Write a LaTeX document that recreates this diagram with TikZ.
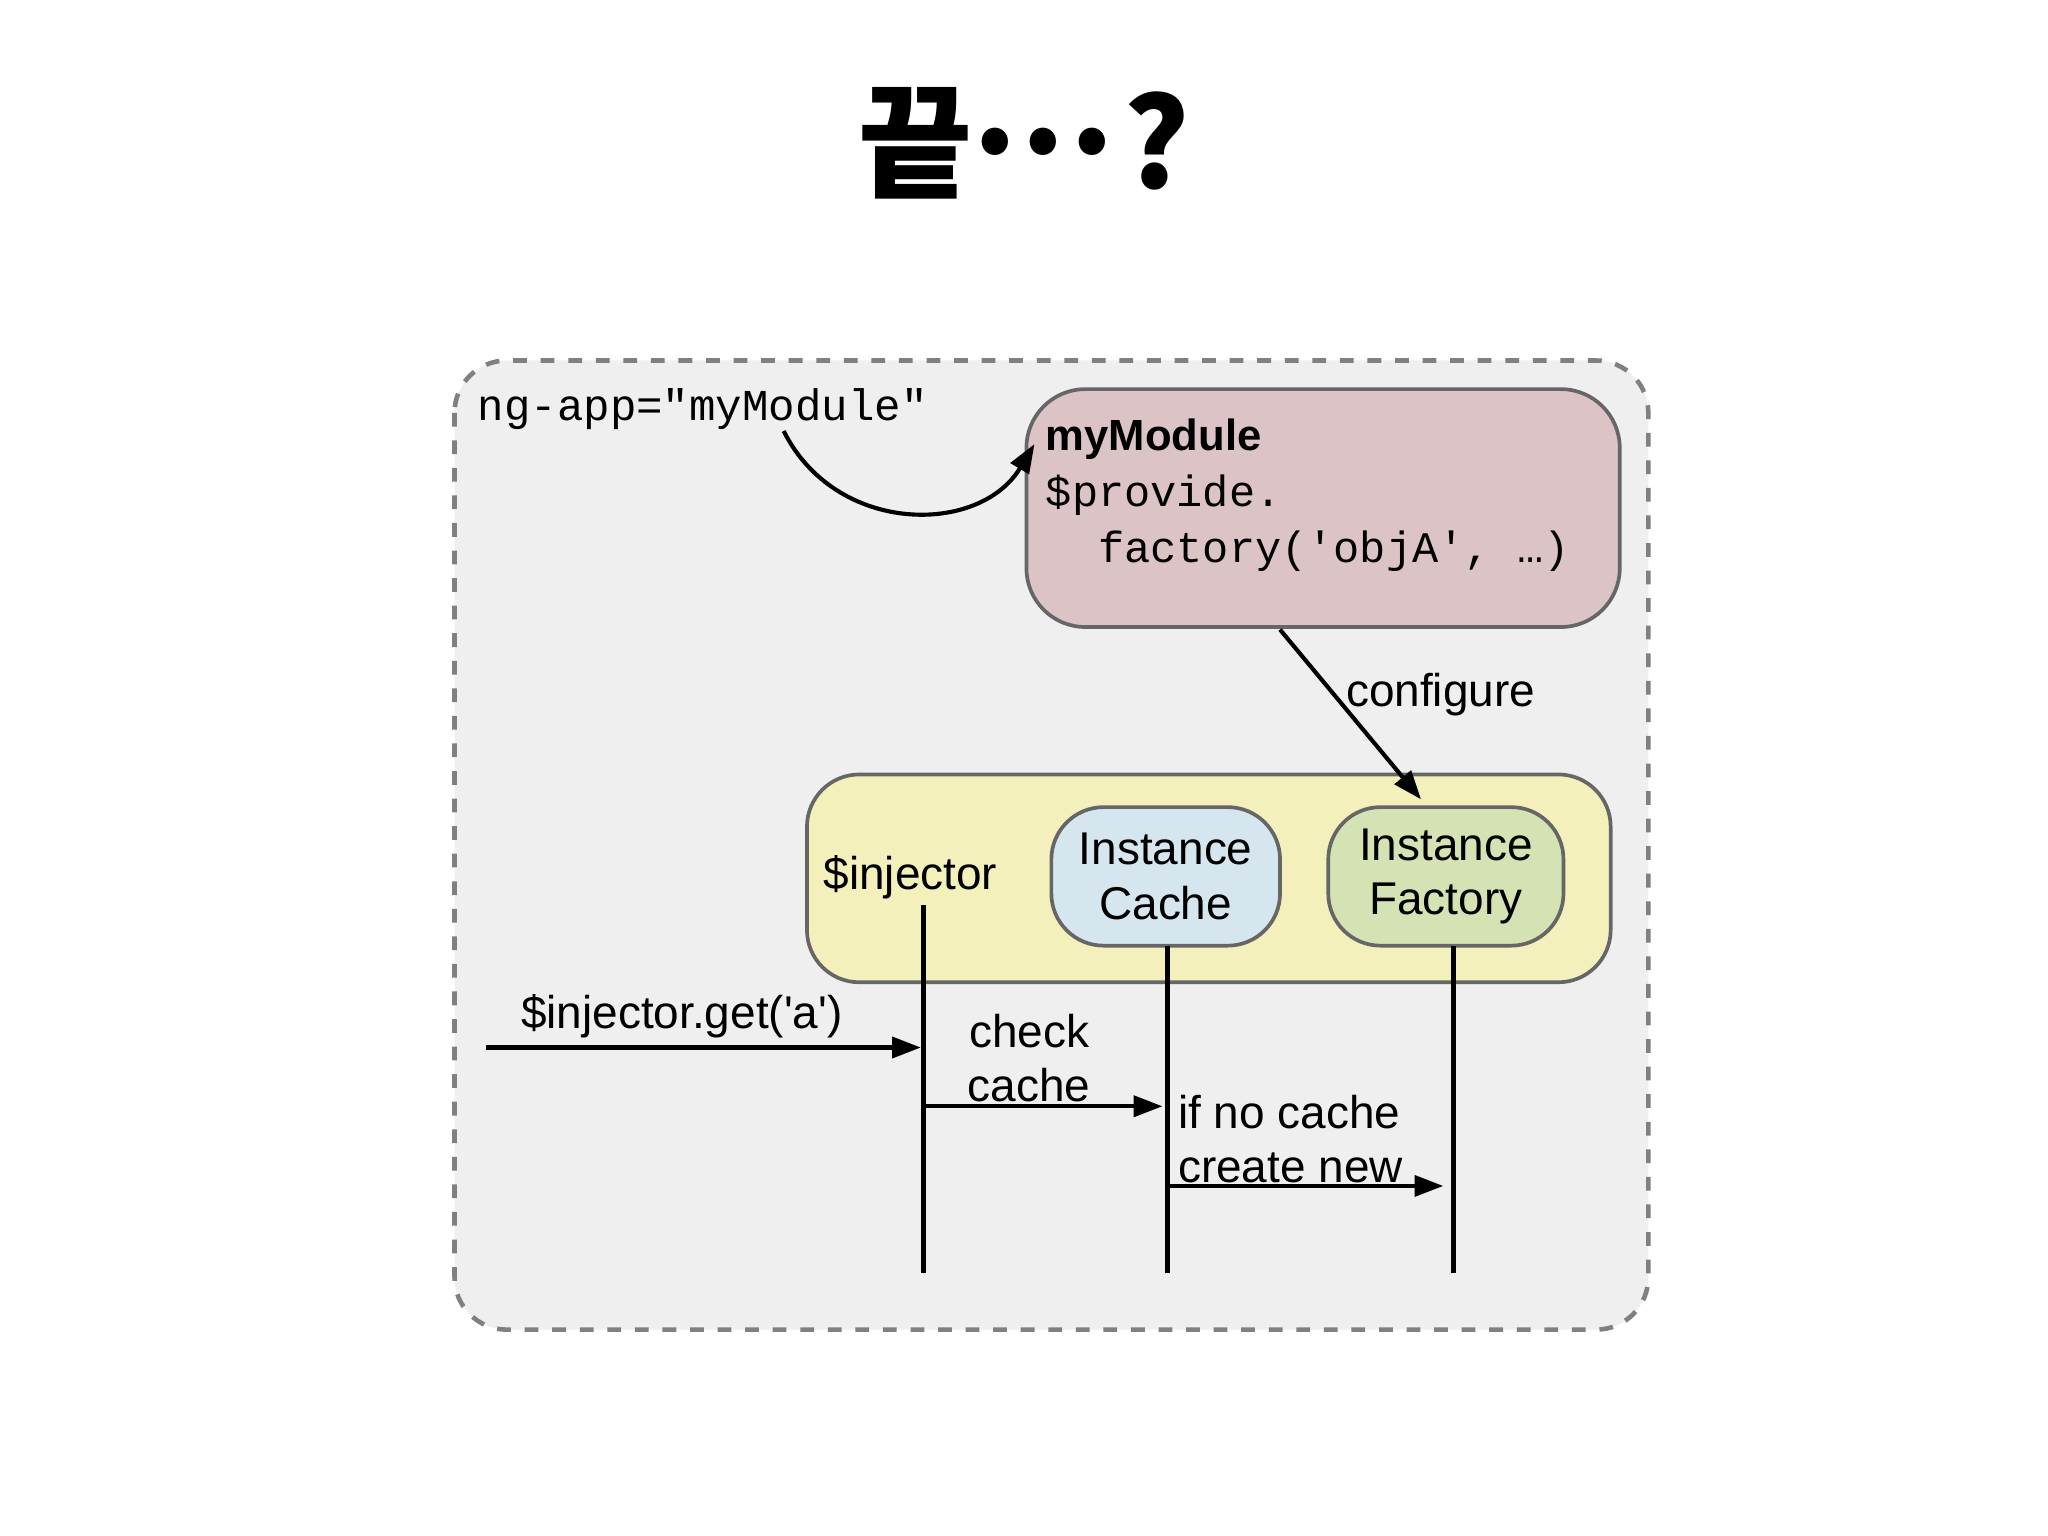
\documentclass[tikz,border=0pt]{standalone}
\usepackage{fontspec}
\setmainfont{Liberation Sans}
\setmonofont{Liberation Mono}
\newfontfamily\kr{Noto Sans CJK KR}
\usetikzlibrary{arrows.meta}
\definecolor{outerfill}{HTML}{F0EFF0}
\definecolor{modfill}{HTML}{DCC3C6}
\definecolor{injfill}{HTML}{F3F0BB}
\definecolor{cachefill}{HTML}{D6E6EE}
\definecolor{factfill}{HTML}{D4E2B4}
\tikzset{
  box/.style={draw=gray!80!black, line width=0.8pt},
  arr/.style={-{Triangle[length=0.22cm,width=0.16cm]}, line width=0.9pt},
  life/.style={line width=1pt},
  lbl/.style={font=\fontsize{10}{11.8}\selectfont, align=center, inner sep=0},
}
\begin{document}
\begin{tikzpicture}[x=0.01cm,y=-0.01cm]
\useasboundingbox[fill=white] (0,0) rectangle (1568,1176);
\node (title) at (784,110) {\kr\bfseries\fontsize{27}{30}\selectfont 끝\kern-0.12em·\kern-0.22em·\kern-0.22em·\kern-0.05em ?};
\draw[dashed, draw=gray, line width=1pt, fill=outerfill, rounded corners=0.4cm] (348,276) rectangle (1262,1018);
\node[box, fill=modfill, rounded corners=0.45cm, minimum width=4.54cm, minimum height=1.82cm] (mod) at (1013,389) {};
\node[anchor=north west, align=left, inner sep=0, font=\fontsize{9.5}{12.2}\selectfont] (modtxt) at (800,320)
  {\textbf{myModule}\\ \texttt{\$provide.}\\ \texttt{\ \ factory(\textquotesingle objA\textquotesingle, …)}};
\node[box, fill=injfill, rounded corners=0.4cm, minimum width=6.15cm, minimum height=1.59cm] (inj) at (925.5,672.5) {};
\node[box, fill=cachefill, rounded corners=0.4cm, minimum width=1.75cm, minimum height=1.06cm] (cache) at (892.5,671) {};
\node[box, fill=factfill, rounded corners=0.4cm, minimum width=1.8cm, minimum height=1.06cm] (fact) at (1107,671) {};
\node[lbl] at (cache) {Instance\\Cache};
\node[lbl] at (fact) {Instance\\Factory};
\node[lbl] (injl) at (697,672) {\$injector};
\node[inner sep=0, font=\ttfamily\fontsize{9.6}{12}\selectfont] (ng) at (538,313) {ng-app="myModule"};
\coordinate (c0) at (600,330);
\coordinate (c1) at (792,340);
\draw[arr] (c0) .. controls (640,410) and (750,410) .. (c1);
\coordinate (m0) at (980,482);
\coordinate (m1) at (1088,612);
\draw[arr] (m0) -- (m1);
\node[lbl] (conf) at (1103,532) {configure};
\coordinate (l1a) at (707,693); \coordinate (l1b) at (707,975);
\coordinate (l2a) at (894,724); \coordinate (l2b) at (894,975);
\coordinate (l3a) at (1113,724); \coordinate (l3b) at (1113,975);
\draw[life] (l1a) -- (l1b); \draw[life] (l2a) -- (l2b); \draw[life] (l3a) -- (l3b);
\coordinate (g0) at (372,802); \coordinate (g1) at (705,802);
\draw[arr] (g0) -- (g1);
\node[lbl] (getl) at (522,778) {\$injector.get(\textquotesingle a\textquotesingle)};
\coordinate (k0) at (707,847); \coordinate (k1) at (890,847);
\draw[arr] (k0) -- (k1);
\node[lbl] (chk) at (788,810) {check\\cache};
\coordinate (n0) at (894,908); \coordinate (n1) at (1105,908);
\draw[arr] (n0) -- (n1);
\node[lbl, align=left] (nc) at (988,872) {if no cache\\create new};
\end{tikzpicture}
\end{document}
